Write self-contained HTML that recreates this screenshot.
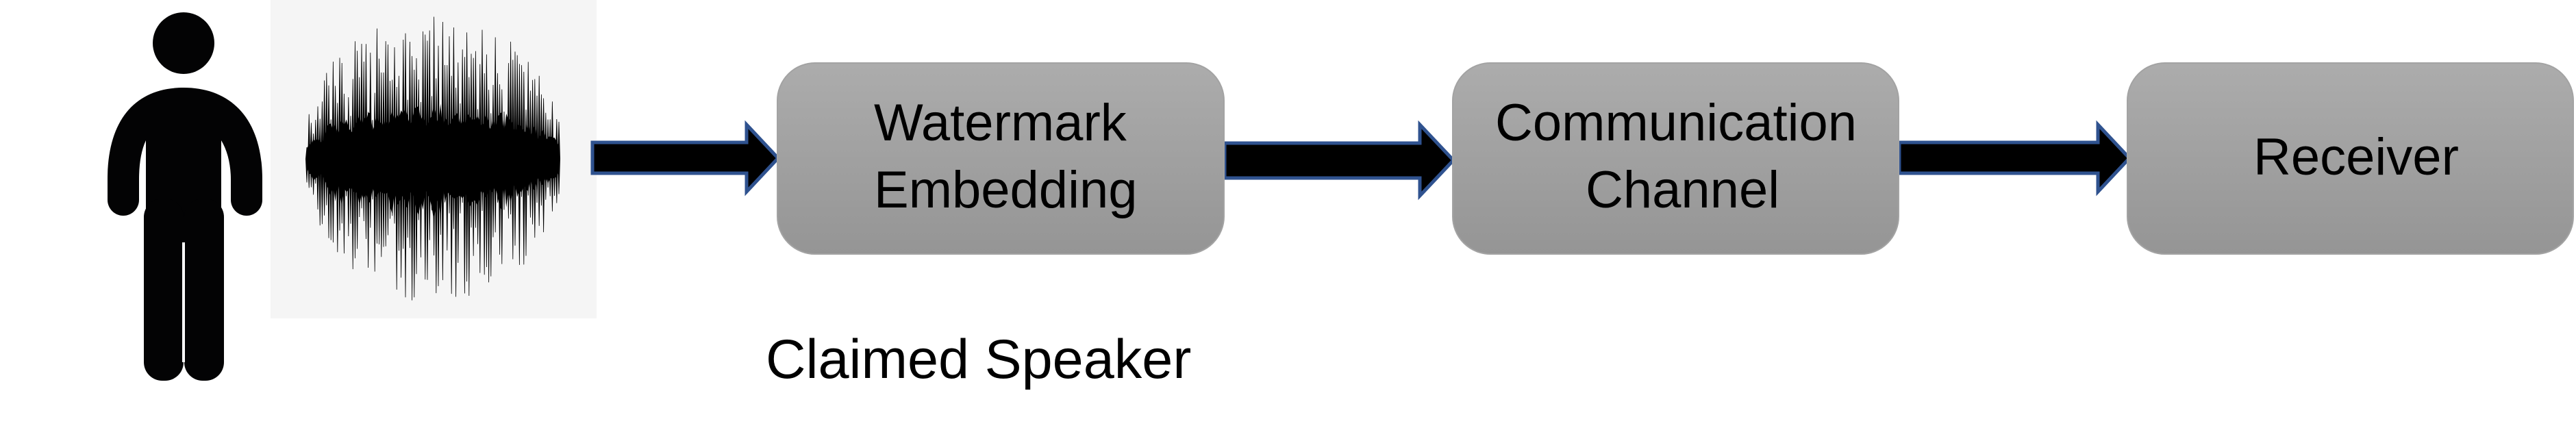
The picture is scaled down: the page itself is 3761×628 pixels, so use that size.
<!DOCTYPE html>
<html><head><meta charset="utf-8"><style>
html,body{margin:0;padding:0;background:#fff;}
body{width:3761px;height:628px;overflow:hidden;position:relative;font-family:"Liberation Sans",sans-serif;}
.box{position:absolute;top:91px;height:281px;border-radius:56px;background:linear-gradient(#acacac,#959595);border:2px solid #a3a3a3;box-sizing:border-box;}
.t{position:absolute;font-size:76px;color:#000;white-space:nowrap;line-height:1;}
</style></head><body>
<div style="position:absolute;left:395px;top:0;width:476px;height:465px;background:#f5f5f5"></div>
<svg id="s" width="3761" height="628" style="position:absolute;left:0;top:0">
<g fill="#030304">
<ellipse cx="268" cy="63" rx="45" ry="45"/>
<path d="M203,292 A23,23 0 0 1 157,292 L157,262 C157,172 200,128 268,128 C336,128 383,172 383,262 L383,292 A23,23 0 0 1 337,292 L337,262 C337,240 332,220 323,205 L323,380 L213,380 L213,205 C206,220 203,240 203,262 Z"/>
<rect x="210" y="290" width="58" height="266" rx="27"/>
<rect x="269" y="290" width="58" height="266" rx="27"/>
</g>
<rect x="266" y="354" width="4" height="175" fill="#fff"/>
<g id="w" stroke="#000" fill="#000"></g>
<g fill="#000" stroke="#2f528f" stroke-width="5">
<polygon points="865,208 1090,208 1090,182 1136,231 1090,280 1090,253 865,253"/>
<polygon points="1788,209 2073,209 2073,182 2122,234 2073,286 2073,260 1788,260"/>
<polygon points="2773,208 3063,208 3063,182 3109,231 3063,280 3063,253 2773,253"/>
</g>
</svg>
<div class="box" style="left:1134px;width:654px"></div>
<div class="box" style="left:2120px;width:653px"></div>
<div class="box" style="left:3105px;width:653px"></div>
<div class="t" style="left:1276px;top:142px">Watermark</div>
<div class="t" style="left:1276px;top:240px">Embedding</div>
<div class="t" style="left:2183px;top:142px">Communication</div>
<div class="t" style="left:2315px;top:240px">Channel</div>
<div class="t" style="left:3290px;top:192px">Receiver</div>
<div class="t" style="left:1118px;top:485px;font-size:81px">Claimed Speaker</div>
<script>
(function(){
var g=document.getElementById('w');var seed=11;function r(){seed=(seed*16807)%2147483647;return seed/2147483647;}
var ns='http://www.w3.org/2000/svg';var cy=232,cx=632,R=186;var top=[],bot=[];
for(var x=448;x<=817;x+=3.2){var d=(x-cx)/R;var env=180*Math.sqrt(Math.max(0,1-d*d))+30;
var a=env*(0.3+0.7*r()),b=env*(0.3+0.7*r());
var p1=document.createElementNS(ns,'polygon');
p1.setAttribute('points',(x-1.6)+','+(cy)+' '+x+','+(cy-a)+' '+(x+1.6)+','+cy+' '+x+','+(cy+b));
p1.setAttribute('stroke-width','0.8');g.appendChild(p1);
var c=(env*0.35)*(0.6+0.5*r());top.push(x+','+(cy-c));bot.unshift(x+','+(cy+c*(0.8+0.4*r())));}
var p=document.createElementNS(ns,'polygon');p.setAttribute('points',top.concat(bot).join(' '));p.setAttribute('stroke','none');g.appendChild(p);
})();
</script>
</body></html>
